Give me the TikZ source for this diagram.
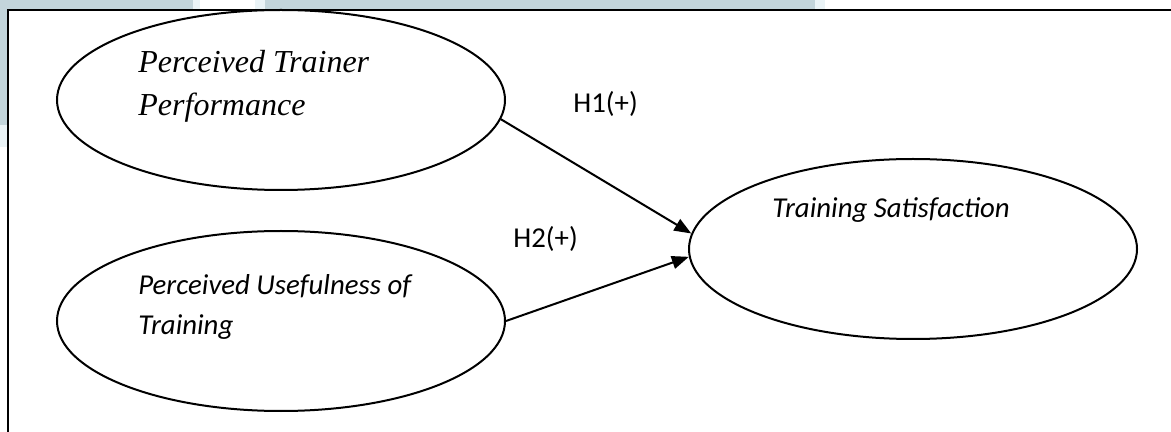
\documentclass[tikz,border=0pt]{standalone}
\usepackage{fontspec}
\newfontfamily\timesf{Liberation Serif}
\newfontfamily\calib{Carlito}
\usetikzlibrary{shapes.geometric,arrows.meta}
\definecolor{bandblue}{RGB}{195,213,219}
\definecolor{bandlight}{RGB}{234,243,246}
\tikzset{
  construct/.style={draw=black, line width=1pt, ellipse, fill=white, inner sep=0pt,
                    minimum width=224pt, minimum height=90pt},
  serlabel/.style={anchor=base west, inner sep=0pt, font=\timesf\itshape\fontsize{16}{21}\selectfont},
  sanslabel/.style={anchor=base west, inner sep=0pt, font=\calib\itshape\fontsize{14.4}{20}\selectfont},
  hyplabel/.style={anchor=base west, inner sep=0pt, font=\calib\fontsize{14.4}{17}\selectfont},
  hyparrow/.style={draw=black, line width=1pt, -{Triangle[length=8.5pt,width=6.5pt]}},
}
\begin{document}
\begin{tikzpicture}[x=0.5pt,y=-0.5pt]
\useasboundingbox (0,0) rectangle (1171,432);
\clip (0,0) rectangle (1171,432);
% background band
\fill[bandblue] (0,0) rectangle (193,10);
\fill[bandlight] (193,0) rectangle (200,10);
\fill[bandlight] (255,0) rectangle (265,10);
\fill[bandblue] (265,0) rectangle (815,10);
\fill[bandlight] (815,0) rectangle (825,10);
\fill[bandblue] (0,0) rectangle (8,125);
\fill[bandlight] (0,125) rectangle (8,147);
% frame
\draw[line width=1.1pt] (8,10) rectangle (1200,460);
% constructs
\node[construct] (ptp) at (281,100) {};
\node[construct] (put) at (281,321) {};
\node[construct] (ts) at (913,249) {};
\node[serlabel] (ptpA) at (138,73) {Perceived Trainer};
\node[serlabel] (ptpB) at (138,116) {Performance};
\node[sanslabel] (putA) at (138,295) {Perceived Usefulness of};
\node[sanslabel] (putB) at (138,335) {Training};
\node[sanslabel] (tsA) at (772,218) {Training Satisfaction};
% hypotheses
\draw[hyparrow] (ptp.-5) -- (ts.176);
\draw[hyparrow] (put.0) -- (ts.182);
\node[hyplabel] (h1) at (573,113) {H1(+)};
\node[hyplabel] (h2) at (513,248) {H2(+)};
\end{tikzpicture}
\end{document}
